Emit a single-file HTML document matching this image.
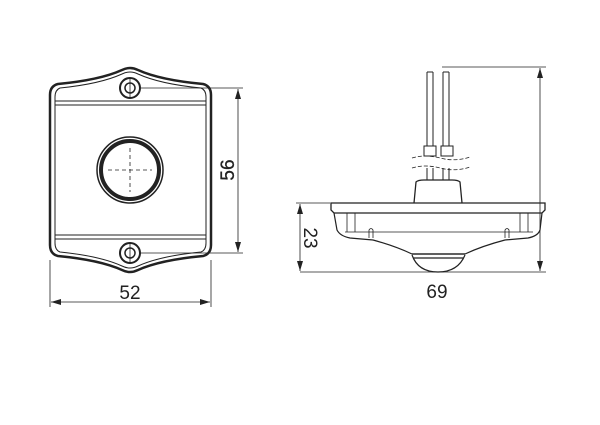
<!DOCTYPE html>
<html><head><style>body{margin:0;background:#fff}svg{display:block}</style></head><body>
<svg width="600" height="425" viewBox="0 0 600 425" xmlns="http://www.w3.org/2000/svg" font-family="Liberation Sans, sans-serif">
<defs><marker id="a" viewBox="0 0 10 6" refX="10" refY="3" markerWidth="10" markerHeight="6" orient="auto-start-reverse" markerUnits="userSpaceOnUse"><path d="M0,0L10,3L0,6z" fill="#222"/></marker></defs>
<g fill="none" stroke="#222">
<path d="M58,84 Q100,80 122,70 Q130,66 138,70 Q160,80 203,84 Q211,86 211,95 L211,245 Q211,254 203,256 Q160,260 138,270 Q130,274 122,270 Q100,260 58,256 Q50,254 50,245 L50,95 Q50,86 58,84Z" stroke-width="2.5"/>
<path d="M60,88 Q100,84 122,74 Q130,70 138,74 Q160,84 201,88 Q206,90 206,97 L206,243 Q206,250 201,252 Q160,256 138,266 Q130,270 122,266 Q100,256 60,252 Q55,250 55,243 L55,97 Q55,90 60,88Z" stroke-width="1"/>
<line x1="55" y1="101" x2="206" y2="101"/><line x1="55" y1="105" x2="206" y2="105"/>
<line x1="55" y1="235" x2="206" y2="235"/><line x1="55" y1="239" x2="206" y2="239"/>
<circle cx="130" cy="88" r="10" stroke-width="2"/><circle cx="130" cy="88" r="5" stroke-width="1.5"/>
<circle cx="130" cy="253" r="10" stroke-width="2"/><circle cx="130" cy="253" r="5" stroke-width="1.5"/>
<circle cx="130" cy="170" r="33" stroke-width="1.5"/><circle cx="130" cy="170" r="29" stroke-width="4"/>
<path d="M130,148V192M108,170H152" stroke-width="0.8" stroke-dasharray="4,3"/>
<path d="M130,78V98M130,243V263" stroke-width="0.8"/>
<line x1="140" y1="88" x2="243" y2="88" stroke-width="0.8"/><line x1="140" y1="253" x2="243" y2="253" stroke-width="0.8"/>
<line x1="238" y1="89" x2="238" y2="252" stroke-width="0.8" marker-start="url(#a)" marker-end="url(#a)"/>
<line x1="50" y1="260" x2="50" y2="307" stroke-width="0.8"/><line x1="211" y1="260" x2="211" y2="307" stroke-width="0.8"/>
<line x1="51" y1="302" x2="210" y2="302" stroke-width="0.8" marker-start="url(#a)" marker-end="url(#a)"/>
<path d="M427,72V146M433,72V146M443,72V146M449,72V146M427,72H433M443,72H449" stroke-width="1"/>
<rect x="424" y="146" width="12" height="10"/><rect x="441" y="146" width="12" height="10"/>
<path d="M412,158 Q425,154 440,158 T470,157M412,168 Q425,164 440,168 T470,167" stroke-dasharray="4,2" stroke-width="0.8"/>
<path d="M427,168V180M433,168V180M443,168V180M449,168V180" stroke-width="1"/>
<path d="M414,203 L416,182 Q418,180 424,180 L452,180 Q458,180 460,182 L462,203" stroke-width="1.3"/>
<path d="M331,203 H545 L545,210 L542,213 H334 L331,210Z" stroke-width="1.3"/>
<path d="M334,213 L337,230 Q340,236 350,238 L373,240 Q395,246 412,254 H465 Q482,246 505,240 L528,238 Q538,236 540,230 L542,213" stroke-width="1.2"/>
<path d="M347,213V232M355,213V232M520,213V232M528,213V232M345,232H533" stroke-width="0.8"/>
<path d="M369,238V230Q371,227 373,230V238M505,238V230Q507,227 509,230V238" stroke-width="0.8"/>
<path d="M412,254 H465 M413,258H464 M412,255 Q418,272 438,272 Q458,272 465,255" stroke-width="1.2"/>
<line x1="442" y1="67" x2="546" y2="67" stroke-width="0.8"/>
<line x1="300" y1="272" x2="546" y2="272" stroke-width="0.8"/>
<line x1="296" y1="203" x2="330" y2="203" stroke-width="0.8"/>
<line x1="540" y1="68" x2="540" y2="271" stroke-width="0.8" marker-start="url(#a)" marker-end="url(#a)"/>
<line x1="300" y1="204" x2="300" y2="271" stroke-width="0.8" marker-start="url(#a)" marker-end="url(#a)"/>
</g>
<g font-size="19" fill="#222" text-anchor="middle">
<text x="130" y="299">52</text>
<text x="437" y="298">69</text>
<text transform="translate(234,170) rotate(-90)" stroke="#222" stroke-width="0.3">56</text>
<text transform="translate(304,238) rotate(90)">23</text>
</g>
</svg>
</body></html>
